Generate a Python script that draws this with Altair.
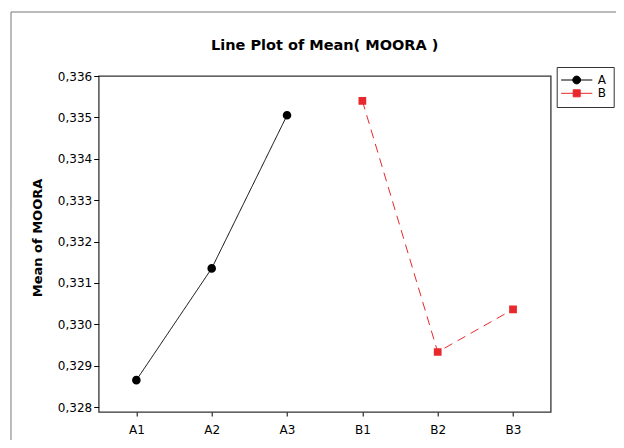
import altair as alt
import pandas as pd

# ---- data ----
levels = ["A1", "A2", "A3", "B1", "B2", "B3"]
factors = ["A", "A", "A", "B", "B", "B"]
means = [0.32865, 0.33135, 0.33505, 0.33540, 0.32933, 0.33036]
y_ticks = [0.328, 0.329, 0.330, 0.331, 0.332, 0.333, 0.334, 0.335, 0.336]
series = ["A", "B"]

df = pd.DataFrame({"level": levels, "factor": factors, "mean": means})
frame_df = pd.DataFrame({"k": [0]})

FONT = "DejaVu Sans"
COLORS = ["#000000", "#e8282c"]
CIRCLE = "M-4,0H4M-1,0A1,1,0,1,0,1,0A1,1,0,1,0,-1,0Z"
SQUARE = "M-4,0H4M-0.9,-0.9H0.9V0.9H-0.9Z"

x_enc = alt.X(
    "level:N",
    sort=levels,
    scale=alt.Scale(type="point", padding=0.5),
    axis=alt.Axis(title=None, labelAngle=0, tickSize=4, labelPadding=8,
                  labelFont=FONT, labelFontSize=12, labelColor="#000",
                  tickColor="#000", domain=False, grid=False),
)
y_enc = alt.Y(
    "mean:Q",
    scale=alt.Scale(domain=[0.32788, 0.336], nice=False, zero=False),
    axis=alt.Axis(
        title="Mean of MOORA", values=y_ticks,
        labelExpr="replace(format(datum.value, '.3f'), '.', ',')",
        tickSize=5, labelPadding=2, labelFont=FONT, labelFontSize=12,
        labelColor="#000", tickColor="#000", domain=False, grid=False,
        titleFont=FONT, titleFontSize=13, titleFontWeight="bold",
        titleColor="#000", titleX=-61, titleY=161.5, titleAngle=270,
        titleAlign="center", titleBaseline="middle",
    ),
)

outer = alt.Chart(frame_df).mark_rect(
    fill=None, stroke="#777777", strokeWidth=1
).encode(
    x=alt.value(-87.7), x2=alt.value(700), y=alt.value(-64), y2=alt.value(500)
)

# line-layer scales use data-derived domains so their (hidden) legends
# are not merged with the visible legend below
lines = alt.Chart(df).mark_line(strokeWidth=1).encode(
    x=x_enc, y=y_enc,
    color=alt.Color("factor:N", scale=alt.Scale(range=COLORS), legend=None),
    strokeDash=alt.StrokeDash("factor:N", scale=alt.Scale(range=[[1, 0], [9, 6]]), legend=None),
)

leg = alt.Legend(
    title=None, orient="none", legendX=458, legendY=-9,
    strokeColor="#333333", fillColor="#ffffff", padding=7,
    symbolSize=61, symbolStrokeWidth=1, symbolOffset=7, labelOffset=15,
    labelFont=FONT, labelFontSize=12, labelColor="#000", rowPadding=1.3,
)

points = alt.Chart(df).mark_point(filled=True, size=74, strokeWidth=0, opacity=1).encode(
    x=x_enc, y=y_enc,
    fill=alt.Fill("factor:N", scale=alt.Scale(domain=series, range=COLORS), legend=leg),
    stroke=alt.Stroke("factor:N", scale=alt.Scale(domain=series, range=COLORS), legend=leg),
    shape=alt.Shape("factor:N", scale=alt.Scale(domain=series, range=[CIRCLE, SQUARE]), legend=leg),
)

chart = alt.layer(outer, lines, points).properties(
    width=452, height=336,
    title=alt.TitleParams("Line Plot of Mean( MOORA )", font=FONT, fontSize=14.5,
                          fontWeight="bold", color="#000", anchor="middle",
                          baseline="alphabetic", offset=0, dy=53),
    autosize=alt.AutoSizeParams(type="none"),
    padding={"left": 90.7, "top": 68, "right": 65.3, "bottom": 28},
).configure(
    background="white",
    view=alt.ViewConfig(stroke="#333333", strokeWidth=1.3),
)

chart.save("out.html", embed_options={"renderer": "svg", "actions": False})
